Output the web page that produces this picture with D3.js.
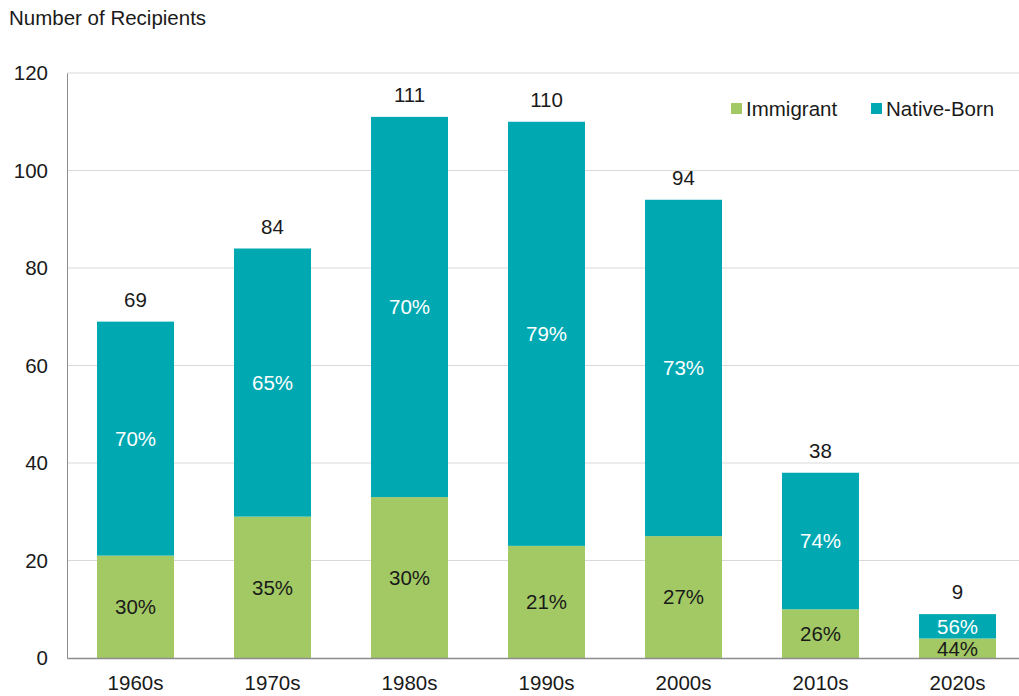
<!DOCTYPE html>
<html>
<head>
<meta charset="utf-8">
<script src="https://cdn.jsdelivr.net/npm/d3@7"></script>
<style>
  body { margin: 0; background: #fff; }
  svg { display: block; font-family: "Liberation Sans", Arial, sans-serif; }
</style>
</head>
<body>
<svg id="chart" width="1019" height="696"></svg>
<script>
// Award recipients by decade, split by birthplace
const decades = ["1960s", "1970s", "1980s", "1990s", "2000s", "2010s", "2020s"];
const immigrant = [21, 29, 33, 23, 25, 10, 4];
const nativeBorn = [48, 55, 78, 87, 69, 28, 5];
const totals = [69, 84, 111, 110, 94, 38, 9];
const immigrantPct = ["30%", "35%", "30%", "21%", "27%", "26%", "44%"];
const nativePct = ["70%", "65%", "70%", "79%", "73%", "74%", "56%"];
const yTicks = [0, 20, 40, 60, 80, 100, 120];
const seriesNames = ["Immigrant", "Native-Born"];
const colors = { "Immigrant": "#a2c964", "Native-Born": "#00a9b2" };

const FS = 20.5;
const textColor = "#1a1a1a";

const svg = d3.select("#chart");
const margin = { left: 67, right: -7, top: 73, bottom: 38 };
const W = 1019, H = 696;

const x = d3.scaleBand()
  .domain(decades)
  .range([margin.left, W - margin.right])
  .paddingInner(0.438)
  .paddingOuter(0.219);

const y = d3.scaleLinear()
  .domain([0, 120])
  .range([H - margin.bottom, margin.top]);

// Horizontal gridlines
svg.append("g")
  .selectAll("line")
  .data(yTicks.filter(d => d > 0))
  .join("line")
  .attr("x1", margin.left)
  .attr("x2", W - margin.right)
  .attr("y1", d => y(d))
  .attr("y2", d => y(d))
  .attr("stroke", "#d9d9d9")
  .attr("stroke-width", 1);

// Stacked data
const rows = decades.map((d, i) => ({ decade: d, "Immigrant": immigrant[i], "Native-Born": nativeBorn[i] }));
const stacked = d3.stack().keys(seriesNames)(rows);

svg.append("g")
  .selectAll("g")
  .data(stacked)
  .join("g")
  .attr("fill", s => colors[s.key])
  .selectAll("rect")
  .data(s => s)
  .join("rect")
  .attr("x", d => x(d.data.decade))
  .attr("width", x.bandwidth())
  .attr("y", d => y(d[1]))
  .attr("height", d => y(d[0]) - y(d[1]));

// Y axis
const yAxis = svg.append("g")
  .attr("transform", `translate(${margin.left},0)`)
  .call(d3.axisLeft(y).tickValues(yTicks).tickSize(0).tickPadding(19));
yAxis.select(".domain").attr("stroke", "#8c8c8c");
yAxis.selectAll("text")
  .attr("font-size", FS)
  .attr("fill", textColor)
  .attr("font-family", "Liberation Sans, Arial, sans-serif");

// X axis
const xAxis = svg.append("g")
  .attr("transform", `translate(0,${y(0)})`)
  .call(d3.axisBottom(x).tickSize(0).tickPadding(17));
xAxis.select(".domain").attr("stroke", "#8c8c8c").attr("stroke-width", 1.5);
xAxis.selectAll("text")
  .attr("font-size", FS)
  .attr("fill", textColor)
  .attr("font-family", "Liberation Sans, Arial, sans-serif");

// Axis title
svg.append("text")
  .attr("x", 9)
  .attr("y", 25)
  .attr("font-size", FS)
  .attr("fill", textColor)
  .text("Number of Recipients");

// Segment percentage labels
const cx = d => x(d) + x.bandwidth() / 2;
svg.append("g")
  .selectAll("text")
  .data(decades)
  .join("text")
  .attr("x", d => cx(d))
  .attr("y", (d, i) => y(immigrant[i] / 2))
  .attr("dy", "0.36em")
  .attr("text-anchor", "middle")
  .attr("font-size", FS)
  .attr("fill", textColor)
  .text((d, i) => immigrantPct[i]);

svg.append("g")
  .selectAll("text")
  .data(decades)
  .join("text")
  .attr("x", d => cx(d))
  .attr("y", (d, i) => y(immigrant[i] + nativeBorn[i] / 2))
  .attr("dy", "0.36em")
  .attr("text-anchor", "middle")
  .attr("font-size", FS)
  .attr("fill", "#ffffff")
  .text((d, i) => nativePct[i]);

// Totals above bars
svg.append("g")
  .selectAll("text")
  .data(decades)
  .join("text")
  .attr("x", d => cx(d))
  .attr("y", (d, i) => y(totals[i]) - 15)
  .attr("text-anchor", "middle")
  .attr("font-size", FS)
  .attr("fill", textColor)
  .text((d, i) => totals[i]);

// Legend
const legendX = [731, 871];
const legend = svg.append("g")
  .selectAll("g")
  .data(seriesNames)
  .join("g")
  .attr("transform", (d, i) => `translate(${legendX[i]},103)`);
legend.append("rect")
  .attr("width", 11)
  .attr("height", 11)
  .attr("fill", d => colors[d]);
legend.append("text")
  .attr("x", 15)
  .attr("y", 6)
  .attr("dy", "0.36em")
  .attr("font-size", FS)
  .attr("fill", textColor)
  .text(d => d);
</script>
</body>
</html>
